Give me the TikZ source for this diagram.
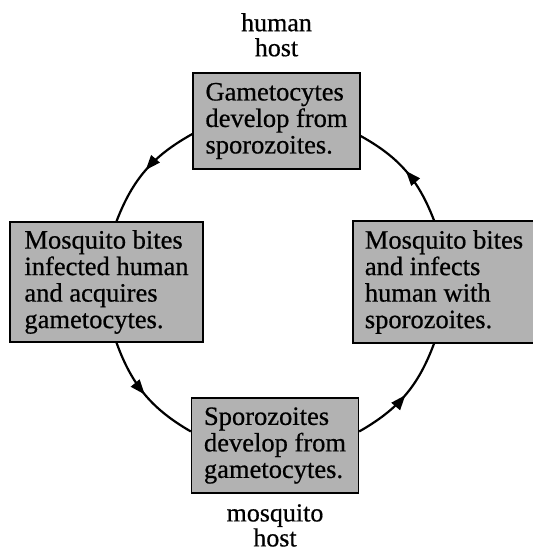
\documentclass[tikz,border=0pt]{standalone}
\usepackage{fontspec}
\setmainfont[FakeBold=0.6]{Liberation Serif}
\usetikzlibrary{positioning, calc, arrows.meta, decorations.markings}

\begin{document}
\begin{tikzpicture}[x=1pt, y=-1pt,
        fase/.style={draw, line width=1.3pt, fill=black!30, align=left, inner sep=0pt, font=\fontsize{26.5}{26.5}\selectfont},
        ospite/.style={align=center, anchor=north, inner sep=0pt, font=\fontsize{26}{25}\selectfont},
        ciclo/.style={line width=2.2pt, postaction={decorate}, decoration={markings, mark=at position 0.5 with {\arrow{Triangle[length=15pt, width=11pt]}}}}]
        \useasboundingbox (0,0) rectangle (533,552);
        %etichette degli ospiti
        \node[ospite] (umano) at (276.5,13) {human\\host};
        \node[ospite] (zanzara) at (275,504) {mosquito\\host};
        %riquadri delle fasi
        \node[fase, minimum width=167pt, minimum height=96pt] (gam) at (276.5,121) {Gametocytes\\develop from\\sporozoites.};
        \node[fase, minimum width=193pt, minimum height=120pt] (acq) at (106.5,282) {Mosquito bites\\infected human\\and acquires\\gametocytes.};
        \node[fase, minimum width=182pt, minimum height=122pt] (inf) at (444,282) {Mosquito bites\\and infects\\human with\\sporozoites.};
        \node[fase, minimum width=167pt, minimum height=95pt] (spo) at (275,445.5) {Sporozoites\\develop from\\gametocytes.};
        %archi del ciclo
        \draw[ciclo] ([yshift=-13pt]gam.west) to[bend right=20] ([xshift=10pt]acq.north);
        \draw[ciclo] ([xshift=10pt]acq.south) to[bend right=20] ([yshift=14pt]spo.west);
        \draw[ciclo] ([yshift=14pt]spo.east) to[bend right=20] ([xshift=-10pt]inf.south);
        \draw[ciclo] ([xshift=-10pt]inf.north) to[bend right=20] ([yshift=-15pt]gam.east);
    \end{tikzpicture}
\end{document}
